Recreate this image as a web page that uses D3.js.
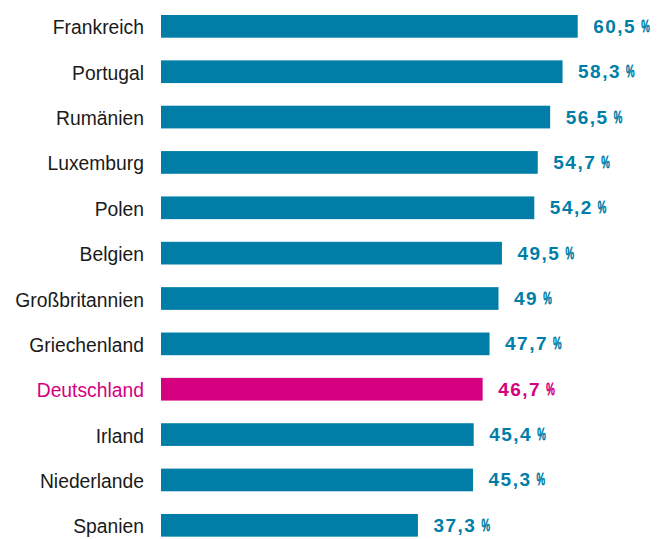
<!DOCTYPE html>
<html>
<head>
<meta charset="utf-8">
<script src="https://cdn.jsdelivr.net/npm/d3@7"></script>
<style>
  body { margin: 0; background: #fff; }
  svg { display: block; }
</style>
</head>
<body>
<div id="chart"></div>
<script>
const countries = [
  'Frankreich', 'Portugal', 'Rumänien', 'Luxemburg', 'Polen', 'Belgien',
  'Großbritannien', 'Griechenland', 'Deutschland', 'Irland', 'Niederlande', 'Spanien',
]
const values = [60.5, 58.3, 56.5, 54.7, 54.2, 49.5, 49, 47.7, 46.7, 45.4, 45.3, 37.3]
const highlight = 'Deutschland'

const width = 664
const height = 539
const marginLeft = 161
const marginTop = 15
const step = 45.36
const barHeight = 22.7
const barColor = '#007ea8'
const highlightColor = '#d4007f'

const data = countries.map((c, i) => ({ country: c, value: values[i] }))

const svg = d3
  .select('#chart')
  .append('svg')
  .attr('width', width)
  .attr('height', height)

const xScale = d3.scaleLinear().domain([0, 60.5]).range([marginLeft, 577.7])

const yScale = d3
  .scaleBand()
  .domain(countries)
  .range([marginTop, marginTop + step * (countries.length - 1) + barHeight])
  .paddingInner(1 - barHeight / step)
  .paddingOuter(0)

const colorOf = d => (d.country === highlight ? highlightColor : barColor)
const mid = d => yScale(d.country) + yScale.bandwidth() / 2

svg
  .append('g')
  .selectAll('rect')
  .data(data)
  .join('rect')
  .attr('x', xScale(0))
  .attr('y', d => yScale(d.country))
  .attr('width', d => xScale(d.value) - xScale(0))
  .attr('height', yScale.bandwidth())
  .attr('fill', colorOf)

// country labels (condensed look via horizontal scale)
svg
  .append('g')
  .selectAll('text')
  .data(data)
  .join('text')
  .attr('transform', d => `translate(144, ${mid(d) + 8}) scale(0.92, 1)`)
  .attr('text-anchor', 'end')
  .style('font-family', '"Liberation Sans", Arial, sans-serif')
  .style('font-size', '21px')
  .attr('fill', d => (d.country === highlight ? highlightColor : '#1a1a1a'))
  .text(d => d.country)

// value labels: number + narrow percent sign
const valueGroups = svg
  .append('g')
  .selectAll('g')
  .data(data)
  .join('g')
  .attr('transform', d => `translate(${xScale(d.value) + 15.5}, ${mid(d) + 6.5})`)
  .attr('fill', colorOf)
  .style('color', colorOf)
  .style('font-family', '"Liberation Sans", Arial, sans-serif')
  .style('font-weight', 'bold')

valueGroups
  .append('text')
  .attr('class', 'num')
  .style('font-size', '19px')
  .style('letter-spacing', '1.5px')
  .text(d => String(d.value).replace('.', ','))

valueGroups.each(function () {
  const g = d3.select(this)
  const w = g.select('.num').node().getComputedTextLength()
  g.append('text')
    .attr('transform', `translate(${w + 5}, -1) scale(0.6, 1)`)
    .style('font-size', '16px')
    .style('font-weight', 'normal')
    .style('stroke', 'currentColor')
    .style('stroke-width', 0.8)
    .text('%')
})
</script>
</body>
</html>
